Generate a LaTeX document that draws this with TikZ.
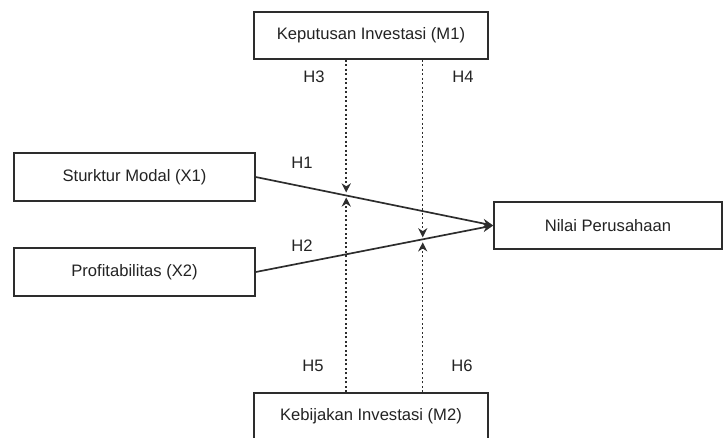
\documentclass[tikz,border=0pt]{standalone}
\usepackage{fontspec}
\setmainfont{Liberation Sans}
\usetikzlibrary{arrows.meta, positioning, calc}
\definecolor{lndark}{RGB}{45,45,45}
\definecolor{txtdark}{RGB}{35,35,35}
\tikzset{
  varbox/.style={rectangle, draw=lndark, fill=white,
    minimum width=5.85cm, minimum height=1.175cm,
    font=\fontsize{11.8}{14}\selectfont, line width=1pt},
  hlabel/.style={font=\fontsize{11.8}{14}\selectfont, inner sep=0pt},
  arrow/.style={-{Stealth[length=7.5pt, width=6.5pt]}, line width=1.2pt, color=lndark},
  modarrow/.style={-{Stealth[length=6.5pt, width=6.5pt]}, line width=1.1pt, color=lndark,
    dash pattern=on 1.6pt off 1.6pt}
}
\begin{document}
\begin{tikzpicture}[x=0.025cm, y=-0.025cm, every node/.style={text=txtdark}]
    \useasboundingbox (0,0) rectangle (723,437);
    \clip (0,0) rectangle (723,437);

    % Moderators
    \node[varbox] (m1) at (371,35.5) {Keputusan Investasi (M1)};
    \node[varbox] (m2) at (371,416.5) {Kebijakan Investasi (M2)};

    % Independent variables
    \node[varbox, minimum width=6.025cm, minimum height=1.2cm] (x1) at (134.5,177) {Sturktur Modal (X1)};
    \node[varbox, minimum width=6.025cm, minimum height=1.2cm] (x2) at (134.5,272) {Profitabilitas (X2)};

    % Dependent variable
    \node[varbox, minimum width=5.7cm] (y) at (608,225.5) {Nilai Perusahaan};

    % Direct effects
    \draw[arrow] (x1.east) -- coordinate[pos=0.381] (p1) (y.west);
    \draw[arrow] (x2.east) -- coordinate[pos=0.703] (p2) (y.west);

    % Moderating effects
    \draw[modarrow] (m1.south -| p1) -- ($(p1)+(0,-3)$);
    \draw[modarrow] (m2.north -| p1) -- ($(p1)+(0,2)$);
    \draw[modarrow] (m1.south -| p2) -- ($(p2)+(0,-2)$);
    \draw[modarrow] (m2.north -| p2) -- ($(p2)+(0,3)$);

    % Hypotheses
    \node[hlabel] (h1) at (302,163) {H1};
    \node[hlabel] (h2) at (302,246) {H2};
    \node[hlabel] (h3) at (314,77) {H3};
    \node[hlabel] (h4) at (463,77) {H4};
    \node[hlabel] (h5) at (313,366) {H5};
    \node[hlabel] (h6) at (462,366) {H6};
\end{tikzpicture}
\end{document}
